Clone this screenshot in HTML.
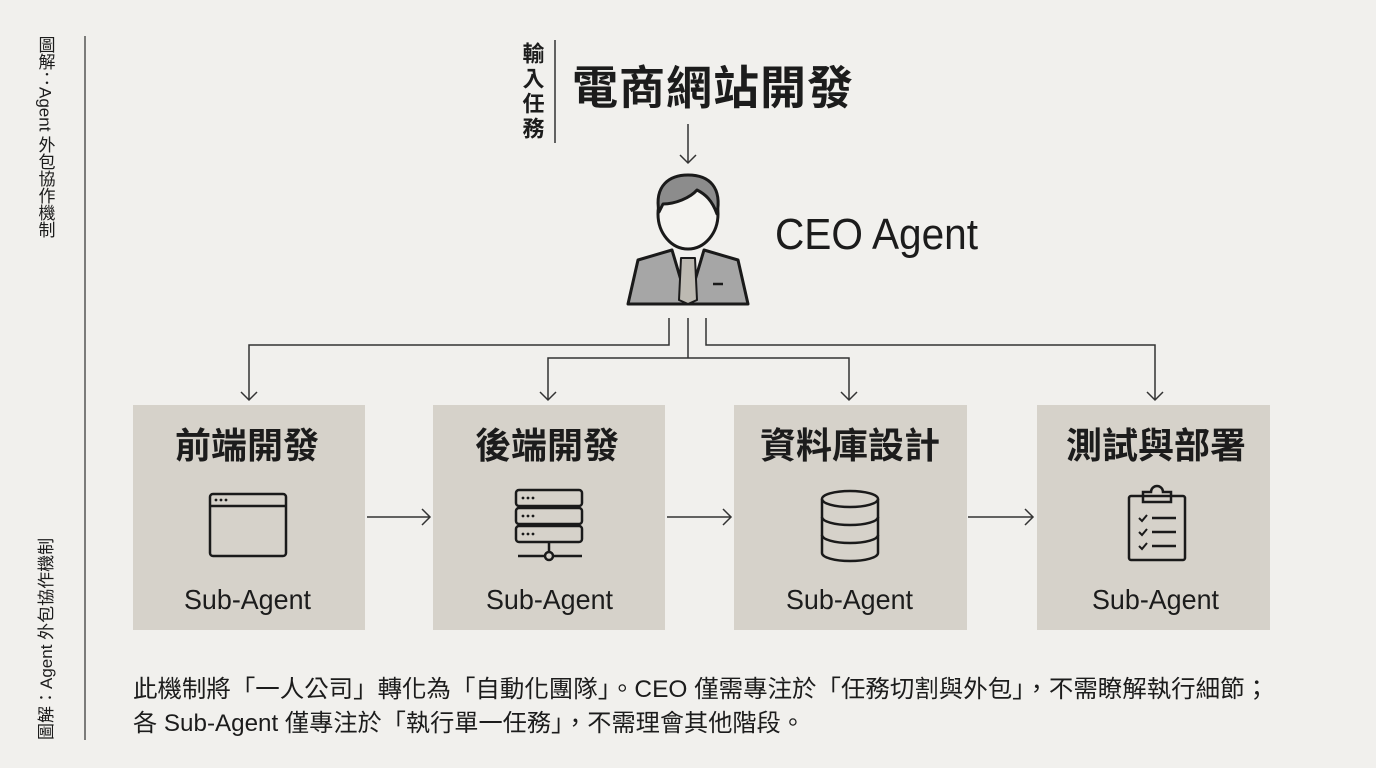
<!DOCTYPE html>
<html><head><meta charset="utf-8"><style>
html,body{margin:0;padding:0;background:#f1f0ed;}
svg{display:block}
text{font-family:"Liberation Sans","Noto Sans CJK TC",sans-serif;fill:#1c1c1c}
</style></head><body>
<svg width="1376" height="768" viewBox="0 0 1376 768" xmlns="http://www.w3.org/2000/svg">
<rect width="1376" height="768" fill="#f1f0ed"/>
<!-- side labels -->
<line x1="85" y1="36" x2="85" y2="740" stroke="#555" stroke-width="1.5"/>
<text x="45" y="36" font-size="17" style="writing-mode:vertical-rl" fill="#222">圖解：Agent 外包協作機制</text>
<text transform="translate(52,740) rotate(-90)" font-size="17" fill="#222">圖解：Agent 外包協作機制</text>
<!-- input task -->
<text x="532" y="42" font-size="22" font-weight="bold" letter-spacing="3" style="writing-mode:vertical-rl">輸入任務</text>
<line x1="555" y1="40" x2="555" y2="143" stroke="#333" stroke-width="1.5"/>
<text x="572" y="104" font-size="46" font-weight="bold" letter-spacing="1">電商網站開發</text>
<g stroke="#333" stroke-width="1.5" fill="none">
<line x1="688" y1="124" x2="688" y2="163"/>
<polyline points="680,155 688,163 696,155"/>
</g>
<!-- CEO icon -->
<g stroke="#1a1a1a" stroke-width="3" stroke-linejoin="round">
<path d="M628,304 L638,260 L672,250 L688,304 Z" fill="#a6a6a6"/>
<path d="M748,304 L738,260 L704,250 L688,304 Z" fill="#a6a6a6"/>
<path d="M681,258 L695,258 L697,300 L688,304 L679,300 Z" fill="#bdbab2" stroke-width="2"/>
<ellipse cx="688" cy="214" rx="30" ry="35" fill="#f4f3f0"/>
<path d="M659,212 C654,185 670,175 688,175 C710,175 722,188 717,214 C712,200 705,194 697,190 C690,198 675,204 663,204 Z" fill="#8c8c8c"/>
<line x1="713" y1="284" x2="723" y2="284" stroke-width="2.5"/>
</g>
<text x="775" y="249" font-size="44" fill="#222" textLength="203" lengthAdjust="spacingAndGlyphs">CEO Agent</text>
<!-- connectors -->
<g stroke="#333" stroke-width="1.5" fill="none">
<polyline points="669,318 669,345 249,345 249,400"/>
<polyline points="241,392 249,400 257,392"/>
<line x1="688" y1="318" x2="688" y2="358"/>
<polyline points="548,400 548,358 849,358 849,400"/>
<polyline points="540,392 548,400 556,392"/>
<polyline points="841,392 849,400 857,392"/>
<polyline points="706,318 706,345 1155,345 1155,400"/>
<polyline points="1147,392 1155,400 1163,392"/>
<line x1="367" y1="517" x2="430" y2="517"/><polyline points="422,509 430,517 422,525"/>
<line x1="667" y1="517" x2="731" y2="517"/><polyline points="723,509 731,517 723,525"/>
<line x1="968" y1="517" x2="1033" y2="517"/><polyline points="1025,509 1033,517 1025,525"/>
</g>
<!-- boxes -->
<g fill="#d6d2ca">
<rect x="133" y="405" width="232" height="225"/>
<rect x="433" y="405" width="232" height="225"/>
<rect x="734" y="405" width="233" height="225"/>
<rect x="1037" y="405" width="233" height="225"/>
</g>
<g font-size="36" font-weight="bold" text-anchor="middle">
<text x="247" y="458">前端開發</text>
<text x="547" y="458">後端開發</text>
<text x="850" y="458">資料庫設計</text>
<text x="1156" y="458">測試與部署</text>
</g>
<g font-size="28" fill="#222">
<text x="184" y="609" textLength="127" lengthAdjust="spacingAndGlyphs">Sub-Agent</text>
<text x="486" y="609" textLength="127" lengthAdjust="spacingAndGlyphs">Sub-Agent</text>
<text x="786" y="609" textLength="127" lengthAdjust="spacingAndGlyphs">Sub-Agent</text>
<text x="1092" y="609" textLength="127" lengthAdjust="spacingAndGlyphs">Sub-Agent</text>
</g>
<!-- icons -->
<g stroke="#1a1a1a" stroke-width="2.5" fill="none">
<rect x="210" y="494" width="76" height="62" rx="3"/>
<line x1="210" y1="506" x2="286" y2="506"/>
<rect x="516" y="490" width="66" height="16" rx="3"/>
<rect x="516" y="508" width="66" height="16" rx="3"/>
<rect x="516" y="526" width="66" height="16" rx="3"/>
<line x1="549" y1="542" x2="549" y2="552"/>
<line x1="518" y1="556" x2="582" y2="556"/>
<circle cx="549" cy="556" r="4" fill="#d6d2ca"/>
<ellipse cx="850" cy="499" rx="28" ry="8"/>
<path d="M822,499 V553 A28,8 0 0 0 878,553 V499"/>
<path d="M822,517 A28,8 0 0 0 878,517"/>
<path d="M822,535 A28,8 0 0 0 878,535"/>
<rect x="1129" y="496" width="56" height="64" rx="2"/>
<path d="M1143,502 V492 H1151 A6,6 0 0 1 1163,492 H1171 V502 Z"/>
<path d="M1139,518 l3,3 l5,-6 M1139,532 l3,3 l5,-6 M1139,546 l3,3 l5,-6" stroke-width="2"/>
<path d="M1152,518 H1176 M1152,532 H1176 M1152,546 H1176"/>
</g>
<g fill="#1a1a1a">
<circle cx="216" cy="500" r="1.4"/><circle cx="221" cy="500" r="1.4"/><circle cx="226" cy="500" r="1.4"/>
<circle cx="523" cy="498" r="1.4"/><circle cx="528" cy="498" r="1.4"/><circle cx="533" cy="498" r="1.4"/>
<circle cx="523" cy="516" r="1.4"/><circle cx="528" cy="516" r="1.4"/><circle cx="533" cy="516" r="1.4"/>
<circle cx="523" cy="534" r="1.4"/><circle cx="528" cy="534" r="1.4"/><circle cx="533" cy="534" r="1.4"/>
</g>
<!-- footer -->
<text x="133" y="697" font-size="24" fill="#222" textLength="1136" lengthAdjust="spacingAndGlyphs">此機制將「一人公司」轉化為「自動化團隊」。CEO 僅需專注於「任務切割與外包」，不需瞭解執行細節；</text>
<text x="133" y="731" font-size="24" fill="#222" textLength="672" lengthAdjust="spacingAndGlyphs">各 Sub-Agent 僅專注於「執行單一任務」，不需理會其他階段。</text>
</svg>
</body></html>
